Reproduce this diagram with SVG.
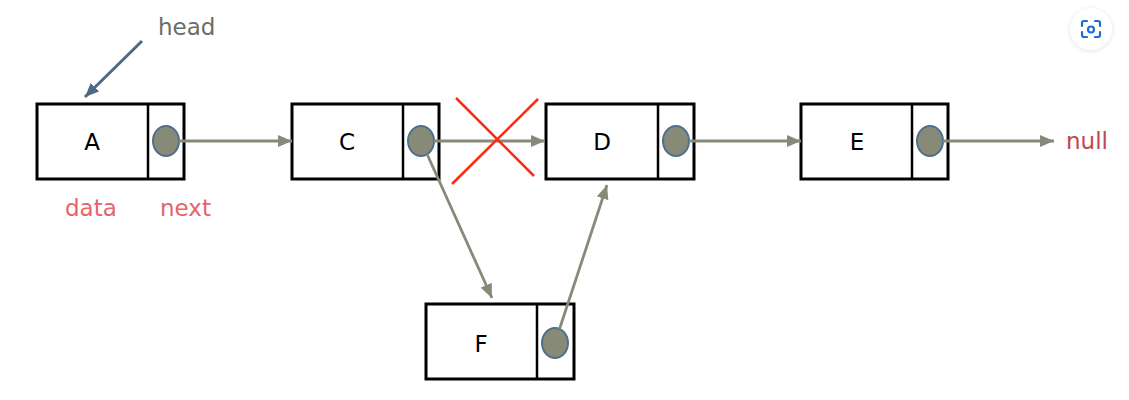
<svg xmlns="http://www.w3.org/2000/svg" width="1129" height="400" viewBox="0 0 1129 400">
<style>
.box{fill:#fff;stroke:#000;stroke-width:3}
.div{stroke:#000;stroke-width:2.5}
.dot{fill:#878a76;stroke:#4f6f8f;stroke-width:2}
.lbl{font-family:"DejaVu Sans",sans-serif;font-size:23px;fill:#000;text-anchor:middle}
.edge{stroke:#878a78;stroke-width:2.8;fill:none;marker-end:url(#ah)}
.red{font-family:"DejaVu Sans",sans-serif;font-size:23px;fill:#e8636a}
</style>
<defs>
<marker id="ah" viewBox="0 0 14 12" refX="14" refY="6" markerWidth="14" markerHeight="12" markerUnits="userSpaceOnUse" orient="auto">
<path d="M0,0 L14,6 L0,12 z" fill="#878a78"/>
</marker>
<marker id="ahb" viewBox="0 0 14 12" refX="14" refY="6" markerWidth="14" markerHeight="12" markerUnits="userSpaceOnUse" orient="auto">
<path d="M0,0 L14,6 L0,12 z" fill="#4a6a85"/>
</marker>
<filter id="sh" x="-30%" y="-30%" width="160%" height="160%"><feGaussianBlur stdDeviation="2"/></filter>
</defs>
<rect width="1129" height="400" fill="#fff"/>
<g id="lens">
<circle cx="1091" cy="30" r="22" fill="#000" opacity="0.08" filter="url(#sh)"/>
<circle cx="1091" cy="29" r="21" fill="#fff"/>
<path d="M1082,26 v-3 a2,2 0 0 1 2,-2 h3 M1095,21 h3 a2,2 0 0 1 2,2 v3 M1100,32 v3 a2,2 0 0 1 -2,2 h-3 M1087,37 h-3 a2,2 0 0 1 -2,-2 v-3" fill="none" stroke="#1a6fd6" stroke-width="2.2" stroke-linecap="round"/>
<circle cx="1091" cy="29.5" r="3" fill="none" stroke="#1a6fd6" stroke-width="2.2"/>
</g>
<g id="nodeA">
<rect class="box" x="37" y="104" width="147" height="75"/>
<line class="div" x1="148" y1="104" x2="148" y2="179"/>
<ellipse class="dot" cx="166" cy="141" rx="13" ry="15"/>
<text class="lbl" x="92" y="150">A</text>
</g>
<g id="nodeC">
<rect class="box" x="292" y="104" width="147" height="75"/>
<line class="div" x1="403" y1="104" x2="403" y2="179"/>
<ellipse class="dot" cx="421" cy="141" rx="13" ry="15"/>
<text class="lbl" x="347" y="150">C</text>
</g>
<g id="nodeD">
<rect class="box" x="546" y="104" width="148" height="75"/>
<line class="div" x1="658" y1="104" x2="658" y2="179"/>
<ellipse class="dot" cx="676" cy="141" rx="13" ry="15"/>
<text class="lbl" x="602" y="150">D</text>
</g>
<g id="nodeE">
<rect class="box" x="801" y="104" width="147" height="75"/>
<line class="div" x1="912" y1="104" x2="912" y2="179"/>
<ellipse class="dot" cx="930" cy="141" rx="13" ry="15"/>
<text class="lbl" x="857" y="150">E</text>
</g>
<g id="nodeF">
<rect class="box" x="426" y="304" width="148" height="75"/>
<line class="div" x1="537" y1="304" x2="537" y2="379"/>
<ellipse class="dot" cx="555" cy="343" rx="13" ry="15"/>
<text class="lbl" x="481" y="352">F</text>
</g>
<g id="connectors">
<line class="edge" x1="179" y1="141" x2="292" y2="141"/>
<line class="edge" x1="434" y1="141" x2="545" y2="141"/>
<line class="edge" x1="689" y1="141" x2="801" y2="141"/>
<line class="edge" x1="943" y1="141" x2="1054" y2="141"/>
<line class="edge" x1="427" y1="154" x2="492" y2="298"/>
<line class="edge" x1="559.5" y1="329" x2="607" y2="185"/>
<line x1="142" y1="41" x2="85" y2="97" stroke="#4a6a85" stroke-width="3" marker-end="url(#ahb)"/>
</g>
<g id="cross">
<line x1="456" y1="98" x2="534" y2="176" stroke="#ff2a10" stroke-width="2.5"/>
<line x1="538" y1="99" x2="452" y2="184" stroke="#ff2a10" stroke-width="2.5"/>
</g>
<g id="labels">
<text x="158" y="35" font-family="DejaVu Sans, sans-serif" font-size="23" fill="#6b6b6b">head</text>
<text class="red" x="65" y="216">data</text>
<text class="red" x="160" y="216">next</text>
<text x="1066" y="149" font-family="DejaVu Sans, sans-serif" font-size="23" fill="#c0474e">null</text>
</g>
</svg>
